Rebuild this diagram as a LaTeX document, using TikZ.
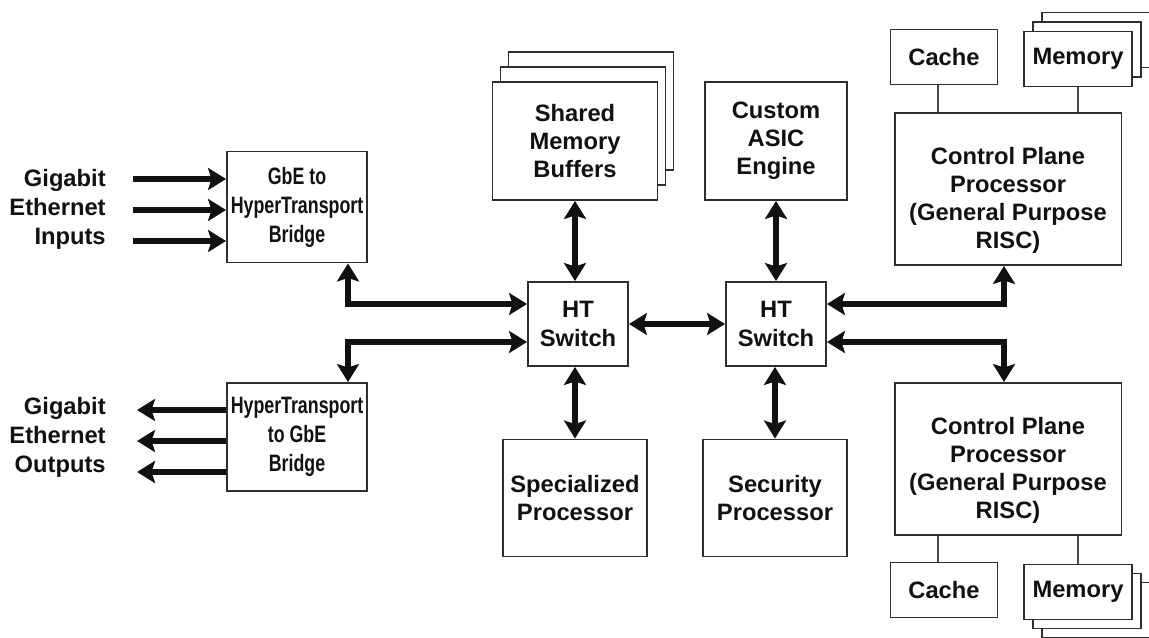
\documentclass[tikz,border=0pt]{standalone}
\usepackage{fontspec}
\setmainfont{Liberation Sans}
\newfontfamily\narrowsans[FakeStretch=0.75]{Liberation Sans}
\usetikzlibrary{arrows.meta,positioning,shadows}
\definecolor{ink}{HTML}{111111}
\definecolor{edge}{HTML}{2E2E2E}
\definecolor{linkgray}{HTML}{4A4A4A}
\tikzset{
  box/.style={draw=edge, line width=1.1pt, fill=white, align=center, inner sep=2pt, text=ink, font=\bfseries\fontsize{13.5}{16}\selectfont},
  bridgebox/.style={box, font=\narrowsans\bfseries\fontsize{13.5}{16.5}\selectfont},
  stackup/.style={double copy shadow={shadow xshift=0.16cm, shadow yshift=0.3cm}},
  memup/.style={double copy shadow={shadow xshift=0.18cm, shadow yshift=0.19cm}},
  memdown/.style={double copy shadow={shadow xshift=0.18cm, shadow yshift=-0.18cm}},
  label/.style={align=right, anchor=east, inner sep=0pt, text=ink, font=\bfseries\fontsize{13.5}{16.5}\selectfont},
  arrow/.style={-{Stealth[length=3.6mm,width=4.4mm,inset=0.7mm]}, line width=3pt, draw=ink},
  dblarrow/.style={{Stealth[length=3.6mm,width=4.4mm,inset=0.7mm]}-{Stealth[length=3.6mm,width=4.4mm,inset=0.7mm]}, line width=3pt, draw=ink},
  link/.style={draw=linkgray, line width=1pt}
}
\begin{document}
\begin{tikzpicture}[x=0.02cm, y=-0.02cm]
\fill[white] (0,0) rectangle (1149,638);
\useasboundingbox (0,0) rectangle (1149,638);
% bridges
\node[bridgebox, minimum width=2.8cm, minimum height=2.22cm] (inbr) at (297,207) {GbE to\\HyperTransport\\Bridge};
\node[bridgebox, minimum width=2.8cm, minimum height=2.16cm] (outbr) at (297,437) {HyperTransport\\to GbE\\Bridge};
% top row
\node[box, stackup, minimum width=3.3cm, minimum height=2.36cm] (shm) at (575,141) {Shared\\Memory\\Buffers};
\node[box, minimum width=2.84cm, minimum height=2.36cm] (asic) at (776,141) {Custom\\ASIC\\Engine};
% switches
\node[box, minimum width=2cm, minimum height=1.68cm] (swa) at (578,324) {HT\\Switch};
\node[box, minimum width=2cm, minimum height=1.68cm] (swb) at (776,324) {HT\\Switch};
% bottom row
\node[box, minimum width=2.88cm, minimum height=2.34cm] (spec) at (575,498) {Specialized\\Processor};
\node[box, minimum width=2.88cm, minimum height=2.34cm] (sec) at (775,498) {Security\\Processor};
% control plane
\node[box, minimum width=4.54cm, minimum height=3.04cm] (cpa) at (1008,189) {\rule{0pt}{23pt}Control Plane\\Processor\\(General Purpose\\RISC)};
\node[box, minimum width=4.54cm, minimum height=3.04cm] (cpb) at (1008,459) {\rule{0pt}{23pt}Control Plane\\Processor\\(General Purpose\\RISC)};
\node[box, minimum width=2.14cm, minimum height=1.1cm] (cachea) at (944,57) {Cache};
\node[box, memup, minimum width=2.16cm, minimum height=1.1cm] (mema) at (1078,59) {Memory};
\node[box, minimum width=2.14cm, minimum height=1.1cm] (cacheb) at (944,590) {Cache};
\node[box, memdown, minimum width=2.16cm, minimum height=1.1cm] (memb) at (1078,592) {Memory};
\draw[link] ([xshift=-0.12cm]cachea.south) -- ([xshift=-0.12cm]cachea.south |- cpa.north);
\draw[link] (mema.south) -- (mema.south |- cpa.north);
\draw[link] ([xshift=-0.12cm]cacheb.north) -- ([xshift=-0.12cm]cacheb.north |- cpb.south);
\draw[link] (memb.north) -- (memb.north |- cpb.south);
% ethernet in / out
\node[label] (inlbl) at (106,209) {Gigabit\\Ethernet\\Inputs};
\node[label] (outlbl) at (106,437) {Gigabit\\Ethernet\\Outputs};
\coordinate (in1) at (133,179);
\coordinate (in2) at (133,210);
\coordinate (in3) at (133,241);
\draw[arrow] (in1) -- (in1 -| inbr.west);
\draw[arrow] (in2) -- (in2 -| inbr.west);
\draw[arrow] (in3) -- (in3 -| inbr.west);
\coordinate (out1) at (137,410);
\coordinate (out2) at (137,441);
\coordinate (out3) at (137,472);
\draw[arrow] (out1 -| outbr.west) -- (out1);
\draw[arrow] (out2 -| outbr.west) -- (out2);
\draw[arrow] (out3 -| outbr.west) -- (out3);
% HT links
\coordinate (ka) at (348,304);
\coordinate (kb) at (348,342);
\coordinate (kc) at (1004,304);
\coordinate (kd) at (1004,342);
\draw[dblarrow] (inbr.south -| ka) -- (ka) -- (ka -| swa.west);
\draw[dblarrow] (kb -| swa.west) -- (kb) -- (outbr.north -| kb);
\draw[dblarrow] (swa.east) -- (swb.west);
\draw[dblarrow] (kc -| swb.east) -- (kc) -- (cpa.south -| kc);
\draw[dblarrow] (kd -| swb.east) -- (kd) -- (cpb.north -| kd);
\draw[dblarrow] (shm.south) -- (shm.south |- swa.north);
\draw[dblarrow] (asic.south) -- (asic.south |- swb.north);
\draw[dblarrow] (spec.north) -- (spec.north |- swa.south);
\draw[dblarrow] (sec.north) -- (sec.north |- swb.south);
\end{tikzpicture}
\end{document}
